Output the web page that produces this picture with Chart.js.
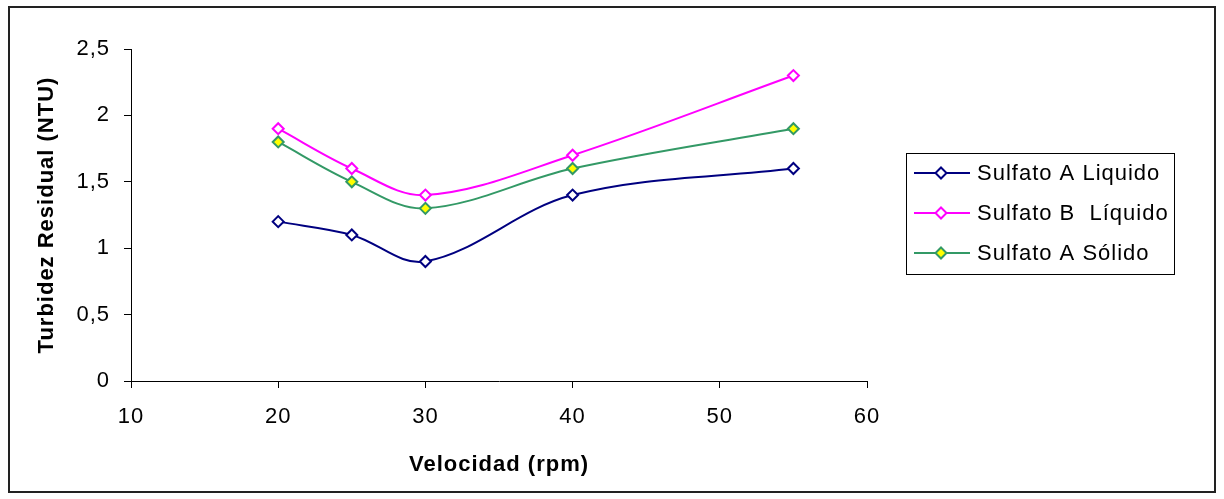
<!DOCTYPE html>
<html>
<head>
<meta charset="utf-8">
<script src="https://cdn.jsdelivr.net/npm/chart.js@4"></script>
<style>
  html, body { margin: 0; padding: 0; background: #fff; }
  #wrap { position: relative; width: 1224px; height: 499px; }
  #frame { position: absolute; left: 8px; top: 6px; width: 1208px; height: 487px;
           box-sizing: border-box; border: 2px solid #222; pointer-events: none; }
</style>
</head>
<body>
<div id="wrap">
  <canvas id="myChart" width="1224" height="499"></canvas>
  <div id="frame"></div>
</div>
<script>
const velocidad = [20, 25, 30, 40, 55];
const sulfatoALiquido = [1.2, 1.1, 0.9, 1.4, 1.6];
const sulfatoBLiquido = [1.9, 1.6, 1.4, 1.7, 2.3];
const sulfatoASolido = [1.8, 1.5, 1.3, 1.6, 1.9];
const seriesNames = ["Sulfato A Liquido", "Sulfato B  Líquido", "Sulfato A Sólido"];
const xTicks = [10, 20, 30, 40, 50, 60];
const yTicks = [0, 0.5, 1, 1.5, 2, 2.5];

const FONT = "'Liberation Sans', Arial, sans-serif";

function toPoints(values) {
    return velocidad.map((x, i) => ({ x: x, y: values[i] }));
}

function makeSeries(label, values, color, fill) {
    return {
        label: label,
        data: toPoints(values),
        showLine: true,
        borderColor: color,
        borderWidth: 2,
        tension: 0.35,
        pointStyle: "rectRot",
        pointRadius: 5.5,
        pointHoverRadius: 5.5,
        pointBorderWidth: 2,
        pointBackgroundColor: fill,
        pointBorderColor: color,
    };
}

// the Excel text runs a little wider than Arial, so space the letters out
const wideText = {
    id: "wideText",
    beforeDraw(chart) {
        chart.ctx.letterSpacing = "1px";
    },
};

// legend drawn inside a box like the original
const boxLegend = {
    id: "boxLegend",
    afterDraw(chart) {
        const ctx = chart.ctx;
        const x0 = 906, y0 = 153, w = 268, h = 121;
        ctx.save();
        ctx.strokeStyle = "#000";
        ctx.lineWidth = 1;
        ctx.strokeRect(x0 + 0.5, y0 + 0.5, w, h);
        chart.data.datasets.forEach((ds, i) => {
            const y = 173 + i * 40;
            ctx.strokeStyle = ds.borderColor;
            ctx.lineWidth = 2;
            ctx.beginPath();
            ctx.moveTo(914, y);
            ctx.lineTo(970, y);
            ctx.stroke();
            ctx.beginPath();
            ctx.moveTo(941, y - 5.5);
            ctx.lineTo(946.5, y);
            ctx.lineTo(941, y + 5.5);
            ctx.lineTo(935.5, y);
            ctx.closePath();
            ctx.fillStyle = ds.pointBackgroundColor;
            ctx.fill();
            ctx.stroke();
            ctx.fillStyle = "#000";
            ctx.font = "22px " + FONT;
            ctx.letterSpacing = "1px";
            ctx.textBaseline = "middle";
            ctx.fillText(ds.label, 977, y + 1);
        });
        ctx.restore();
    },
};

const ctx = document.getElementById("myChart");

new Chart(ctx, {
    type: "scatter",
    data: {
        datasets: [
            makeSeries(seriesNames[0], sulfatoALiquido, "#000080", "#ffffff"),
            makeSeries(seriesNames[1], sulfatoBLiquido, "#ff00ff", "#ffffff"),
            makeSeries(seriesNames[2], sulfatoASolido, "#339966", "#ffff00"),
        ],
    },
    options: {
        responsive: false,
        animation: false,
        layout: {
            padding: { left: 20, top: 49, right: 357, bottom: 0 },
        },
        plugins: {
            legend: { display: false },
            tooltip: { enabled: false },
        },
        scales: {
            x: {
                type: "linear",
                min: 10,
                max: 60,
                afterBuildTicks: (scale) => {
                    scale.ticks = xTicks.map((v) => ({ value: v }));
                },
                afterFit: (scale) => {
                    scale.height = 118;
                },
                grid: {
                    drawOnChartArea: false,
                    drawTicks: true,
                    tickLength: 7,
                    color: "#000",
                },
                border: { display: true, color: "#000", width: 1 },
                ticks: {
                    color: "#000",
                    padding: 16,
                    font: { family: FONT, size: 22 },
                },
                title: {
                    display: true,
                    text: "Velocidad (rpm)",
                    color: "#000",
                    padding: { top: 0, bottom: 21 },
                    font: { family: FONT, size: 22, weight: "bold" },
                },
            },
            y: {
                type: "linear",
                min: 0,
                max: 2.5,
                afterBuildTicks: (scale) => {
                    scale.ticks = yTicks.map((v) => ({ value: v }));
                },
                afterFit: (scale) => {
                    scale.width = 111;
                },
                grid: {
                    drawOnChartArea: false,
                    drawTicks: true,
                    tickLength: 7,
                    color: "#000",
                },
                border: { display: true, color: "#000", width: 1 },
                ticks: {
                    color: "#000",
                    padding: 14,
                    font: { family: FONT, size: 22 },
                    callback: (v) => String(v).replace(".", ","),
                },
                title: {
                    display: true,
                    text: "Turbidez Residual (NTU)",
                    color: "#000",
                    padding: { top: 14, bottom: 0 },
                    font: { family: FONT, size: 22, weight: "bold" },
                },
            },
        },
    },
    plugins: [wideText, boxLegend],
});
</script>
</body>
</html>
